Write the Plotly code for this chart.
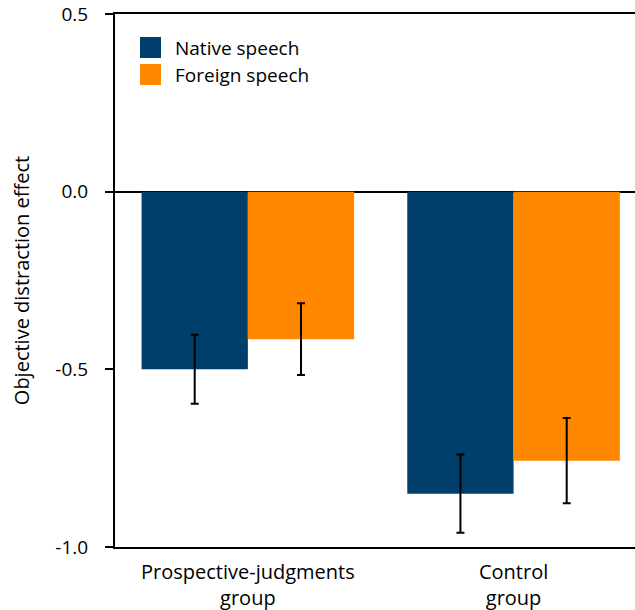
import plotly.graph_objects as go

groups = ["Prospective-judgments<br>group", "Control<br>group"]
native_vals = [-0.50, -0.85]
native_err = [0.097, 0.11]
foreign_vals = [-0.415, -0.757]
foreign_err = [0.101, 0.12]
ytick_vals = [0.5, 0.0, -0.5, -1.0]
ytick_text = ["0.5", "0.0", "-0.5", "-1.0"]
series_names = ["Native speech", "Foreign speech"]
series_colors = ["#003F6B", "#FF8800"]

FONT = "Open Sans"

fig = go.Figure()
fig.add_trace(go.Bar(
    name=series_names[0], x=groups, y=native_vals,
    marker=dict(color=series_colors[0], line=dict(width=0)),
    error_y=dict(type="data", array=native_err, color="black", thickness=2, width=4),
))
fig.add_trace(go.Bar(
    name=series_names[1], x=groups, y=foreign_vals,
    marker=dict(color=series_colors[1], line=dict(width=0)),
    error_y=dict(type="data", array=foreign_err, color="black", thickness=2, width=4),
))

# Custom legend (larger swatches, like the reference)
L, T, W, H = 115, 14, 520, 533
def px2x(px): return (px - L) / W
def py2y(py): return (T + H - py) / H
legend_rows = [(37, 58), (64, 85)]
for (top, bot), name, col in zip(legend_rows, series_names, series_colors):
    fig.add_shape(type="rect", xref="paper", yref="paper",
                  x0=px2x(140), x1=px2x(161), y0=py2y(bot), y1=py2y(top),
                  fillcolor=col, line=dict(width=0))
    fig.add_annotation(xref="paper", yref="paper", x=px2x(173), y=py2y((top + bot) / 2),
                       text=name, showarrow=False, xanchor="left", yanchor="middle",
                       font=dict(size=19, family=FONT, color="black"))

fig.update_layout(
    width=635, height=610,
    margin=dict(l=L, r=0, t=T, b=610 - T - H),
    plot_bgcolor="white", paper_bgcolor="white",
    barmode="group", bargap=0.2, bargroupgap=0,
    font=dict(family=FONT, size=19, color="black"),
    showlegend=False,
)
fig.update_xaxes(
    range=[-0.5, 1.457],
    showline=True, linecolor="black", linewidth=2, mirror=True,
    ticks="", showgrid=False, zeroline=False,
    ticklabelstandoff=6,
    tickfont=dict(size=20, family=FONT),
)
fig.update_yaxes(
    range=[-1.0, 0.5],
    tickvals=ytick_vals, ticktext=ytick_text,
    showline=True, linecolor="black", linewidth=2, mirror=False,
    ticks="outside", ticklen=8, tickwidth=2, tickcolor="black",
    ticklabelstandoff=13,
    showgrid=False,
    zeroline=True, zerolinecolor="black", zerolinewidth=2,
    title=dict(text="Objective distraction effect", font=dict(size=20, family=FONT), standoff=20),
    tickfont=dict(size=19, family=FONT),
)

fig.write_html("out.html", config={"displayModeBar": False},
               post_script="document.body.style.margin='0';document.body.style.padding='0';")
